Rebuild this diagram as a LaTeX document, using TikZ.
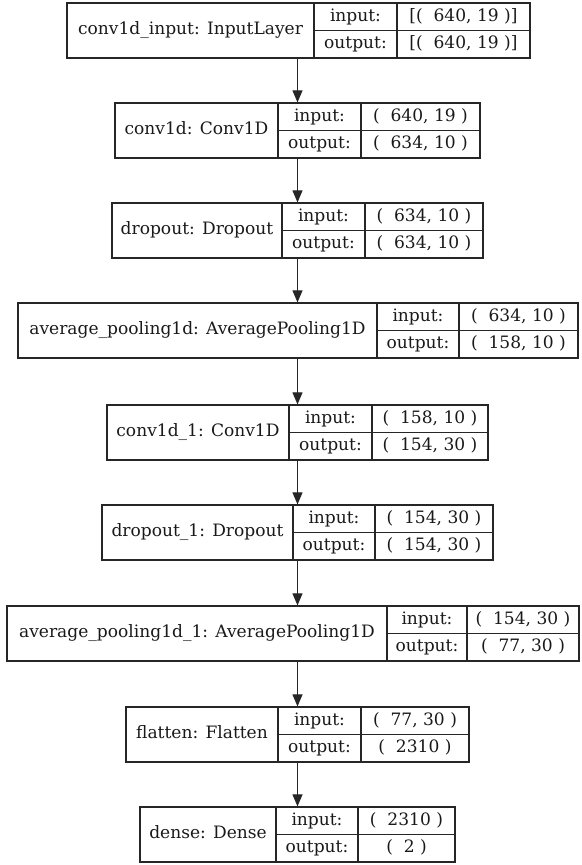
\documentclass[tikz,border=0pt]{standalone}
\usepackage{fontspec}
\setmainfont{DejaVu Serif}
\usetikzlibrary{arrows.meta,fit,positioning}

\begin{document}
\begin{tikzpicture}
        [x=0.75pt, y=-0.75pt,
        % Styles
        layer box/.style={draw=black!85, line width=0.9pt, inner sep=0pt},
        cell line/.style={draw=black!85, line width=0.9pt},
        cell text/.style={inner sep=0pt, text=black!90, font=\fontsize{12.8}{15}\selectfont,
                text height=9pt, text depth=2.7pt},
        flow/.style={draw=black!85, line width=0.8pt, -{Triangle[length=9pt, width=7.5pt]}}]

        \useasboundingbox (0, 0) rectangle (582, 865);
        \coordinate (spine) at (297.5, 0);

        % The layers: number/top/left/first divider/second divider/right/name/input/output
        \foreach \n/\yt/\xa/\xb/\xc/\xd/\lbl/\inp/\outp in {
                1/3/67/314/397/530/{conv1d\_input: InputLayer}/{[(\ \ 640, 19\ )]}/{[(\ \ 640, 19\ )]},
                2/103/115/278/361/480/{conv1d: Conv1D}/{(\ \ 640, 19\ )}/{(\ \ 634, 10\ )},
                3/203/112/282/365/483/{dropout: Dropout}/{(\ \ 634, 10\ )}/{(\ \ 634, 10\ )},
                4/303/18/377/459/578/{average\_pooling1d: AveragePooling1D}/{(\ \ 634, 10\ )}/{(\ \ 158, 10\ )},
                5/405/107/289/372/488/{conv1d\_1: Conv1D}/{(\ \ 158, 10\ )}/{(\ \ 154, 30\ )},
                6/505/102/293/375/493/{dropout\_1: Dropout}/{(\ \ 154, 30\ )}/{(\ \ 154, 30\ )},
                7/606/7/387/467/579/{average\_pooling1d\_1: AveragePooling1D}/{(\ \ 154, 30\ )}/{(\ \ 77, 30\ )},
                8/707/126/278/361/469/{flatten: Flatten}/{(\ \ 77, 30\ )}/{(\ \ 2310\ )},
                9/807/140/276/358/455/{dense: Dense}/{(\ \ 2310\ )}/{(\ \ 2\ )}}
        {
                \node[layer box, fit={(\xa, \yt) (\xd, \yt+55)}] (L\n) {};
                \draw[cell line] (\xb, \yt) -- (\xb, \yt+55);
                \draw[cell line] (\xc, \yt) -- (\xc, \yt+55);
                \draw[cell line] (\xb, \yt+27.5) -- (\xd, \yt+27.5);

                \node[cell text] (L\n-name) at ({(\xa+\xb)/2}, \yt+27.5) {\lbl};
                \node[cell text] (L\n-inlabel) at ({(\xb+\xc)/2}, \yt+14) {input:};
                \node[cell text] (L\n-outlabel) at ({(\xb+\xc)/2}, \yt+41.5) {output:};
                \node[cell text] (L\n-in) at ({(\xc+\xd)/2}, \yt+14) {\inp};
                \node[cell text] (L\n-out) at ({(\xc+\xd)/2}, \yt+41.5) {\outp};
        }

        % Connections
        \foreach \a/\b in {1/2, 2/3, 3/4, 4/5, 5/6, 6/7, 7/8, 8/9}
                \draw[flow] (spine |- L\a.south) -- (spine |- L\b.north);
\end{tikzpicture}
\end{document}
